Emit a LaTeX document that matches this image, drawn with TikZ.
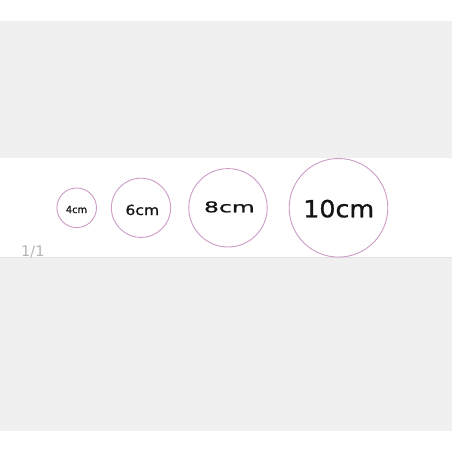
\documentclass[tikz,border=0pt]{standalone}
\usepackage{fontspec}
\setmainfont{DejaVu Sans}
\newfontfamily\lblfont[FakeBold=0.8]{DejaVu Sans}
\definecolor{bggray}{HTML}{F0F0F0}
\definecolor{ringcol}{HTML}{CC9CC6}
\definecolor{txtcol}{HTML}{141414}
\definecolor{pagecol}{HTML}{B4B4B4}
\definecolor{linecol}{HTML}{E2E2E2}
\begin{document}
\begin{tikzpicture}[x=1pt,y=-1pt,
  ring/.style={draw=ringcol,line width=0.9pt,fill=white},
  lbl/.style={anchor=base,text=txtcol,inner sep=0pt,font=\lblfont}]
\useasboundingbox (0,0) rectangle (452,452);
\fill[white] (0,0) rectangle (452,452);
\fill[bggray] (0,21) rectangle (452,431);
\fill[white] (0,158) rectangle (452,257);
\draw[linecol,line width=0.8pt] (0,257.2) -- (452,257.2);
\draw[ring] (76.7,207.8) circle (19.8);
\draw[ring] (141,207.8) circle (29.6);
\draw[ring] (228,207.8) circle (39.2);
\draw[ring] (338.5,207.8) circle (49.3);
\node[lbl] (l4) at (76.5,213) {\fontsize{9.8}{11}\selectfont 4cm};
\node[lbl] (l6) at (142.3,215) {\scalebox{1.12}[1]{\fontsize{13.9}{16}\selectfont 6cm}};
\node[lbl] (l8) at (229.4,212.3) {\scalebox{1.6}[1]{\fontsize{14.7}{16}\selectfont 8cm}};
\node[lbl] (l10) at (338.7,217.3) {\scalebox{1.07}[1]{\fontsize{23.7}{28}\selectfont 10cm}};
\node[anchor=base west,inner sep=0pt,text=pagecol] (pg) at (21,256) {\fontsize{14.5}{16}\selectfont 1/1};
\end{tikzpicture}
\end{document}
